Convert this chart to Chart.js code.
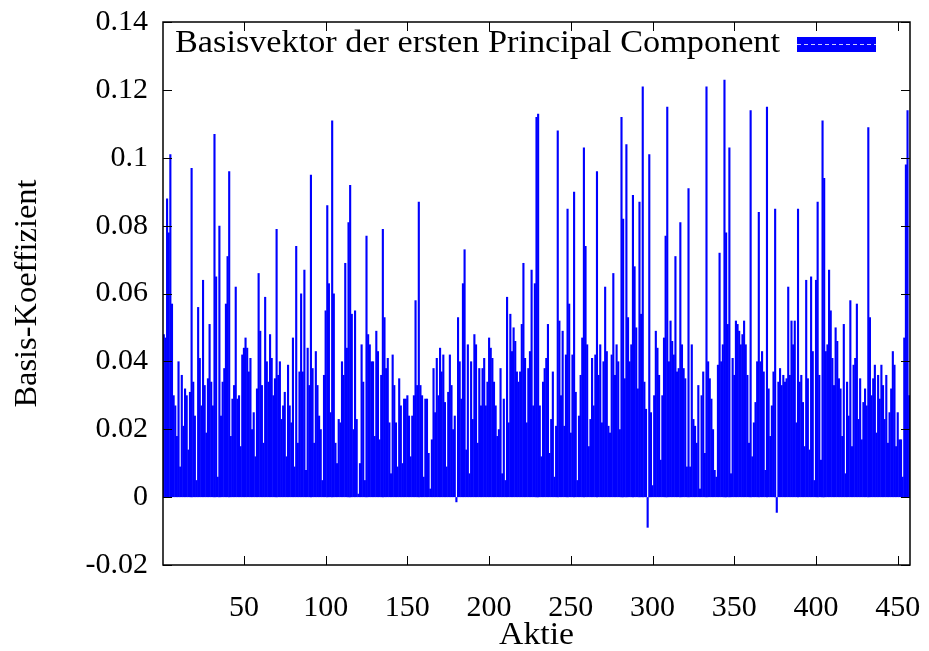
<!DOCTYPE html>
<html>
<head>
<meta charset="utf-8">
<script src="https://cdn.jsdelivr.net/npm/chart.js@4.4.1/dist/chart.umd.min.js"></script>
<style>
  html, body { margin: 0; padding: 0; background: #fff; }
  #wrap { width: 929px; height: 651px; }
</style>
</head>
<body>
<div id="wrap"><canvas id="chart" width="929" height="651"></canvas></div>
<script>
// Texts
const seriesLabel = 'Basisvektor der ersten Principal Component';
const xTitle = 'Aktie';
const yTitle = 'Basis-Koeffizient';

// Tick values
const xTicks = [50, 100, 150, 200, 250, 300, 350, 400, 450];
const yTicks = [-0.02, 0, 0.02, 0.04, 0.06, 0.08, 0.1, 0.12, 0.14];

// Basis coefficient per stock (Aktie 1 .. 457)
const koeffizienten = [
  // 1 - 37
  0.048, 0.047, 0.088, 0.078, 0.101, 0.057, 0.030, 0.027, 0.018, 0.040,
  0.009, 0.036, 0.021, 0.032, 0.030, 0.014, 0.031, 0.097, 0.034, 0.024,
  0.005, 0.056, 0.041, 0.027, 0.064, 0.033, 0.019, 0.035, 0.051, 0.034,
  0.027, 0.107, 0.065, 0.006, 0.080, 0.024, 0.034,
  // 38 - 77
  0.038, 0.057, 0.071, 0.096, 0.018, 0.029, 0.033, 0.062, 0.029, 0.030,
  0.015, 0.042, 0.044, 0.047, 0.044, 0.037, 0.041, 0.020, 0.025, 0.012,
  0.032, 0.066, 0.049, 0.033, 0.016, 0.059, 0.040, 0.034, 0.048, 0.041,
  0.030, 0.035, 0.079, 0.036, 0.040, 0.023, 0.027, 0.031, 0.012, 0.039,
  // 78 - 116
  0.027, 0.022, 0.047, 0.009, 0.074, 0.016, 0.037, 0.060, 0.037, 0.067,
  0.008, 0.044, 0.033, 0.095, 0.038, 0.016, 0.043, 0.033, 0.024, 0.020,
  0.005, 0.036, 0.055, 0.086, 0.063, 0.025, 0.111, 0.060, 0.016, 0.010,
  0.023, 0.022, 0.040, 0.036, 0.069, 0.044, 0.081, 0.092, 0.054,
  // 117 - 154
  0.020, 0.055, 0.023, 0.001, 0.010, 0.045, 0.034, 0.005, 0.077, 0.048,
  0.045, 0.040, 0.040, 0.018, 0.049, 0.043, 0.017, 0.036, 0.079, 0.053,
  0.038, 0.041, 0.022, 0.007, 0.042, 0.033, 0.022, 0.009, 0.035, 0.027,
  0.010, 0.029, 0.029, 0.030, 0.024, 0.012, 0.024, 0.030,
  // 155 - 194
  0.058, 0.033, 0.087, 0.033, 0.030, 0.006, 0.029, 0.029, 0.013, 0.0025,
  0.017, 0.038, 0.025, 0.041, 0.030, 0.044, 0.037, 0.042, 0.028, 0.009,
  0.031, 0.042, 0.033, 0.020, 0.024, -0.0015, 0.053, 0.040, 0.029, 0.063,
  0.073, 0.014, 0.045, 0.007, 0.040, 0.023, 0.048, 0.045, 0.016, 0.038,
  // 195 - 232
  0.027, 0.038, 0.041, 0.027, 0.034, 0.047, 0.044, 0.041, 0.034, 0.027,
  0.018, 0.020, 0.038, 0.007, 0.029, 0.005, 0.059, 0.022, 0.054, 0.043,
  0.050, 0.046, 0.037, 0.034, 0.037, 0.051, 0.069, 0.041, 0.022, 0.038,
  0.043, 0.067, 0.027, 0.063, 0.112, 0.113, 0.027, 0.012,
  // 233 - 273
  0.034, 0.038, 0.041, 0.051, 0.013, 0.023, 0.037, 0.006, 0.021, 0.108,
  0.052, 0.030, 0.049, 0.021, 0.042, 0.085, 0.057, 0.019, 0.042, 0.090,
  0.031, 0.005, 0.024, 0.036, 0.047, 0.103, 0.074, 0.045, 0.015, 0.023,
  0.041, 0.027, 0.042, 0.096, 0.036, 0.045, 0.022, 0.040, 0.062, 0.043,
  0.021,
  // 274 - 312
  0.019, 0.042, 0.066, 0.036, 0.045, 0.040, 0.020, 0.112, 0.082, 0.035,
  0.104, 0.053, 0.040, 0.045, 0.089, 0.068, 0.050, 0.032, 0.087, 0.054,
  0.121, 0.034, 0.026, -0.009, 0.101, 0.025, 0.0035, 0.030, 0.049, 0.044,
  0.036, 0.011, 0.030, 0.047, 0.077, 0.115, 0.040, 0.052, 0.046,
  // 313 - 350
  0.042, 0.071, 0.037, 0.038, 0.081, 0.045, 0.038, 0.035, 0.009, 0.091,
  0.009, 0.045, 0.023, 0.021, 0.016, 0.033, 0.0025, 0.030, 0.037, 0.013,
  0.121, 0.040, 0.035, 0.029, 0.020, 0.008, 0.006, 0.039, 0.072, 0.040,
  0.045, 0.123, 0.078, 0.051, 0.103, 0.007, 0.041, 0.036,
  // 351 - 390
  0.052, 0.051, 0.049, 0.045, 0.048, 0.052, 0.045, 0.036, 0.016, 0.114,
  0.012, 0.022, 0.028, 0.040, 0.084, 0.040, 0.043, 0.037, 0.008, 0.115,
  0.032, 0.018, 0.027, 0.037, 0.085, -0.0046, 0.034, 0.038, 0.033, 0.036,
  0.034, 0.035, 0.062, 0.036, 0.052, 0.045, 0.052, 0.022, 0.085, 0.034,
  // 391 - 429
  0.036, 0.028, 0.015, 0.064, 0.035, 0.014, 0.065, 0.043, 0.005, 0.064,
  0.087, 0.036, 0.011, 0.111, 0.094, 0.043, 0.045, 0.067, 0.055, 0.041,
  0.033, 0.050, 0.046, 0.035, 0.032, 0.018, 0.051, 0.007, 0.034, 0.024,
  0.058, 0.015, 0.039, 0.041, 0.057, 0.023, 0.035, 0.017, 0.028,
  // 430 - 457
  0.032, 0.027, 0.109, 0.053, 0.030, 0.035, 0.039, 0.019, 0.036, 0.029,
  0.039, 0.033, 0.023, 0.036, 0.016, 0.025, 0.032, 0.043, 0.039, 0.015,
  0.025, 0.017, 0.017, 0.006, 0.047, 0.098, 0.114, 0.030
];
const aktien = koeffizienten.map((_, i) => i + 1);

const serif = "'Liberation Serif', 'DejaVu Serif', serif";
const blue = '#0000ff';
const tickLen = 9;

// draw text squeezed/stretched to a given width (Computer Modern is wider than Times)
function fitText(ctx, text, cx, cy, width, rotate) {
  const w = ctx.measureText(text).width;
  ctx.save();
  ctx.translate(cx, cy);
  if (rotate) ctx.rotate(-Math.PI / 2);
  ctx.scale(width / w, 1);
  ctx.textAlign = 'center';
  ctx.textBaseline = 'middle';
  ctx.fillText(text, 0, 0);
  ctx.restore();
}

// gnuplot style frame, inside ticks on all four sides, axis titles and the key
const gnuplotFrame = {
  id: 'gnuplotFrame',
  afterDatasetsDraw(chart) {
    const { ctx, chartArea: a, scales: { x, y } } = chart;
    ctx.save();
    ctx.strokeStyle = '#000';
    ctx.lineWidth = 1;
    ctx.beginPath();
    yTicks.forEach(v => {
      const py = Math.round(y.getPixelForValue(v)) + 0.5;
      ctx.moveTo(a.left, py); ctx.lineTo(a.left + tickLen, py);
      ctx.moveTo(a.right, py); ctx.lineTo(a.right - tickLen, py);
    });
    xTicks.forEach(v => {
      const px = Math.round(x.getPixelForValue(v)) + 0.5;
      ctx.moveTo(px, a.bottom); ctx.lineTo(px, a.bottom - tickLen);
      ctx.moveTo(px, a.top); ctx.lineTo(px, a.top + tickLen);
    });
    ctx.stroke();
    ctx.lineWidth = 1.5;
    ctx.strokeRect(a.left, a.top, a.right - a.left, a.bottom - a.top);

    // axis titles
    ctx.fillStyle = '#000';
    ctx.font = '31px ' + serif;
    fitText(ctx, xTitle, (a.left + a.right) / 2, 636, 75, false);
    fitText(ctx, yTitle, 28, (a.top + a.bottom) / 2, 228, true);

    // key
    fitText(ctx, seriesLabel, 477.5, 44, 605, false);
    ctx.fillStyle = blue;
    ctx.fillRect(797, 37, 79, 15);
    ctx.strokeStyle = 'rgba(255,255,255,0.8)';
    ctx.lineWidth = 1;
    ctx.setLineDash([4, 3]);
    ctx.beginPath();
    ctx.moveTo(797, 44.5); ctx.lineTo(876, 44.5);
    ctx.stroke();
    ctx.restore();
  }
};

new Chart(document.getElementById('chart'), {
  type: 'bar',
  data: {
    datasets: [{
      label: seriesLabel,
      data: koeffizienten.map((v, i) => ({ x: aktien[i], y: v })),
      backgroundColor: blue,
      borderWidth: 0,
      barPercentage: 1.3,
      categoryPercentage: 1
    }]
  },
  options: {
    responsive: false,
    devicePixelRatio: 1,
    animation: false,
    layout: { padding: { left: 0, right: 19, top: 22, bottom: 0 } },
    plugins: { legend: { display: false }, tooltip: { enabled: false } },
    scales: {
      x: {
        type: 'linear',
        min: 0.5,
        max: 457.5,
        offset: false,
        afterBuildTicks: s => { s.ticks = xTicks.map(v => ({ value: v })); },
        afterFit: s => { s.height = 86; s.paddingLeft = 0; s.paddingRight = 0; },
        grid: { display: false, drawTicks: false },
        border: { display: false },
        ticks: { padding: 25, color: '#000', maxRotation: 0, autoSkip: false, font: { family: serif, size: 30 } }
      },
      y: {
        min: -0.02,
        max: 0.14,
        afterBuildTicks: s => { s.ticks = yTicks.map(v => ({ value: v })); },
        afterFit: s => { s.width = 163; s.paddingTop = 0; s.paddingBottom = 0; },
        grid: { display: false, drawTicks: false },
        border: { display: false },
        ticks: { padding: 15, color: '#000', font: { family: serif, size: 30 }, callback: v => String(+v.toFixed(2)) }
      }
    }
  },
  plugins: [gnuplotFrame]
});
</script>
</body>
</html>
